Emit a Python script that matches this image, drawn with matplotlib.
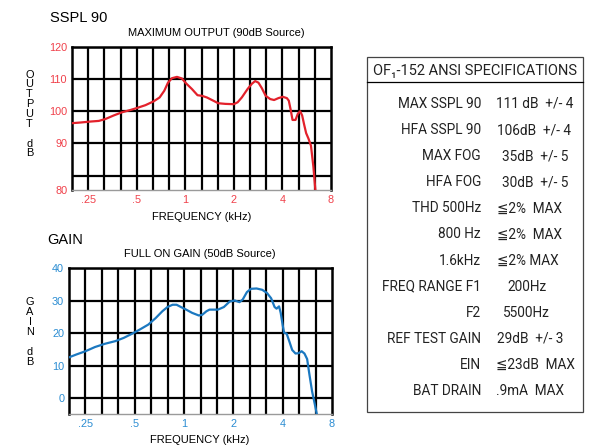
import matplotlib
matplotlib.use("Agg")
import matplotlib.pyplot as plt
from matplotlib.patches import Rectangle
from matplotlib.lines import Line2D

# SSPL 90 curve (kHz, dB)
sspl_freq = [0.199, 0.224, 0.258, 0.291, 0.320, 0.360, 0.406, 0.457, 0.5, 0.566,
             0.637, 0.693, 0.741, 0.781, 0.827, 0.888, 0.953, 1.01, 1.10, 1.19,
             1.27, 1.36, 1.49, 1.60, 1.77, 2.0, 2.11, 2.24, 2.43, 2.59,
             2.71, 2.84, 2.98, 3.15, 3.36, 3.55, 3.78, 4.02, 4.26, 4.38,
             4.51, 4.62, 4.82, 4.98, 5.15, 5.30, 5.45, 5.61, 5.80, 6.01,
             6.22, 6.40]
sspl_db = [96.3, 96.5, 96.8, 97.0, 97.6, 98.7, 99.7, 100.4, 101.0, 101.9,
           103.1, 104.3, 106.4, 108.9, 110.3, 110.7, 110.2, 108.7, 106.9, 105.0,
           104.8, 104.3, 103.3, 102.5, 102.3, 102.2, 102.8, 104.3, 106.9, 108.6,
           109.4, 108.9, 107.2, 104.8, 103.8, 103.5, 104.1, 104.5, 104.1, 103.3,
           100.2, 97.3, 97.3, 99.2, 100.0, 98.7, 95.9, 93.2, 91.5, 89.3,
           82.8, 75.5]

# full on gain curve (kHz, dB)
gain_freq = [0.198, 0.220, 0.25, 0.286, 0.329, 0.380, 0.428, 0.482, 0.542, 0.605,
             0.671, 0.737, 0.792, 0.851, 0.900, 0.957, 1.03, 1.12, 1.23, 1.29,
             1.37, 1.43, 1.61, 1.75, 1.90, 2.04, 2.18, 2.28, 2.42, 2.56,
             2.77, 3.00, 3.21, 3.40, 3.57, 3.67, 3.80, 3.89, 4.00, 4.08,
             4.23, 4.40, 4.57, 4.79, 5.00, 5.22, 5.43, 5.64, 5.83, 6.05,
             6.26, 6.46]
gain_db = [12.5, 13.4, 14.4, 15.7, 16.7, 17.5, 18.5, 19.8, 21.2, 22.6,
           24.6, 26.7, 28.0, 28.7, 28.7, 28.0, 27.2, 26.2, 25.4, 25.6,
           26.7, 27.2, 27.2, 28.0, 29.7, 30.0, 29.5, 30.3, 32.6, 33.6,
           33.7, 33.3, 32.3, 30.7, 28.0, 27.5, 28.2, 26.2, 22.4, 20.1,
           19.8, 17.3, 14.8, 13.7, 13.8, 14.4, 13.7, 12.0, 7.1, 2.0,
           -1.5, -4.9]

freq_ticks = [0.25, 0.5, 1, 2, 4, 8]
freq_labels = [".25", ".5", "1", "2", "4", "8"]
sspl_grid = [80, 90, 100, 110, 120]
sspl_labels = ["80", "90", "100", "110", "120"]
gain_grid = [0, 10, 20, 30, 40]
gain_labels = ["0", "10", "20", "30", "40"]

spec_names = ["MAX SSPL 90", "HFA SSPL 90", "MAX FOG", "HFA FOG", "THD 500Hz",
              "800 Hz", "1.6kHz", "FREQ RANGE F1", "F2", "REF TEST GAIN",
              "EIN", "BAT DRAIN"]
spec_values = ["111 dB  +/- 4", "106dB  +/- 4", "35dB  +/- 5", "30dB  +/- 5",
               "\u22662%  MAX", "\u22662%  MAX", "\u22662% MAX", "200Hz", "5500Hz",
               "29dB  +/- 3", "\u226623dB  MAX", ".9mA  MAX"]
spec_value_x = [496, 497, 502, 502, 497, 497, 497, 507, 503, 497, 496, 496]

RED = "#e3212b"
RED_TXT = "#f0404a"
BLUE = "#1b78c0"
BLUE_TXT = "#2a8cd2"

W, H = 590, 445
fig = plt.figure(figsize=(W / 100, H / 100), dpi=100)
plt.rcParams["font.family"] = ["Liberation Sans", "DejaVu Sans"]
NARROW = ["Roboto", "DejaVu Sans"]


def px(x, y):
    return x / W, 1 - y / H


def make_axes(left, top, right, bottom):
    l, t = px(left, top)
    r, b = px(right, bottom)
    return fig.add_axes([l, b, r - l, t - b])


def style_chart(ax, freq, db, ylim, grid, labels, label_pos, line_c, text_c):
    xmin = 0.25 * 2 ** (-1 / 3)
    ax.set_xscale("log", base=2)
    ax.set_xlim(xmin, 8)
    ax.set_ylim(*ylim)
    # third-octave grid
    thirds = [xmin * 2 ** (k / 3) for k in range(1, 16)]
    for xv in thirds:
        ax.axvline(xv, color="black", lw=1.6, zorder=1)
    for yv in grid:
        ax.axhline(yv, color="black", lw=1.6, zorder=1)
    ax.plot(freq, db, color=line_c, lw=1.6, zorder=3, clip_on=True)
    ax.set_xticks(freq_ticks, freq_labels)
    ax.xaxis.set_minor_locator(plt.NullLocator())
    ax.set_yticks(label_pos, labels)
    ax.tick_params(axis="both", length=0, labelsize=7.8, colors=text_c, pad=3.5)
    for s in ["left", "top", "right"]:
        ax.spines[s].set_linewidth(1.8)
        ax.spines[s].set_color("black")
    ax.spines["bottom"].set_color("#9a9a9a")
    ax.spines["bottom"].set_linewidth(1.0)


ax1 = make_axes(72, 47, 331, 190)
style_chart(ax1, sspl_freq, sspl_db, (75.5, 120), sspl_grid, sspl_labels,
            [75.5, 90, 100, 110, 120], RED, RED_TXT)
ax2 = make_axes(69, 268, 332, 414)
style_chart(ax2, gain_freq, gain_db, (-4.9, 40), gain_grid, gain_labels,
            gain_grid, BLUE, BLUE_TXT)

# chart titles and labels
fig.text(*px(50, 18), "SSPL 90", fontsize=10.5, va="center", ha="left")
fig.text(*px(216, 33), "MAXIMUM OUTPUT (90dB Source)", fontsize=8, va="center", ha="center")
fig.text(*px(202, 217), "FREQUENCY (kHz)", fontsize=8, va="center", ha="center")
fig.text(*px(29.5, 114), "O\nU\nT\nP\nU\nT\n\nd\nB", fontsize=7.9, linespacing=0.98,
         va="center", ha="center")

fig.text(*px(47, 240), "GAIN", fontsize=10.5, va="center", ha="left")
fig.text(*px(200, 254), "FULL ON GAIN (50dB Source)", fontsize=8, va="center", ha="center")
fig.text(*px(200, 440), "FREQUENCY (kHz)", fontsize=8, va="center", ha="center")
fig.text(*px(30, 332), "G\nA\nI\nN\n\nd\nB", fontsize=7.9, linespacing=0.98,
         va="center", ha="center")

# specifications box
bl = px(367, 412)
tr = px(583, 57)
fig.patches.append(Rectangle(bl, tr[0] - bl[0], tr[1] - bl[1], transform=fig.transFigure,
                             fill=False, edgecolor="#444444", lw=0.9))
fig.lines.append(Line2D([bl[0], tr[0]], [px(0, 82)[1]] * 2, transform=fig.transFigure,
                        color="black", lw=0.9))
fig.text(*px(475, 71), "OF\u2081-152 ANSI SPECIFICATIONS", fontsize=10.5, family=NARROW,
         va="center", ha="center", color="#222222")
for i, (name, val) in enumerate(zip(spec_names, spec_values)):
    y = 104 + i * 26.1
    fig.text(*px(481, y), name, fontsize=9.8, family=NARROW, va="center", ha="right",
             color="#222222")
    fig.text(*px(spec_value_x[i], y), val, fontsize=9.8, family=NARROW, va="center",
             ha="left", color="#222222")

fig.savefig("out.png", dpi=100)
